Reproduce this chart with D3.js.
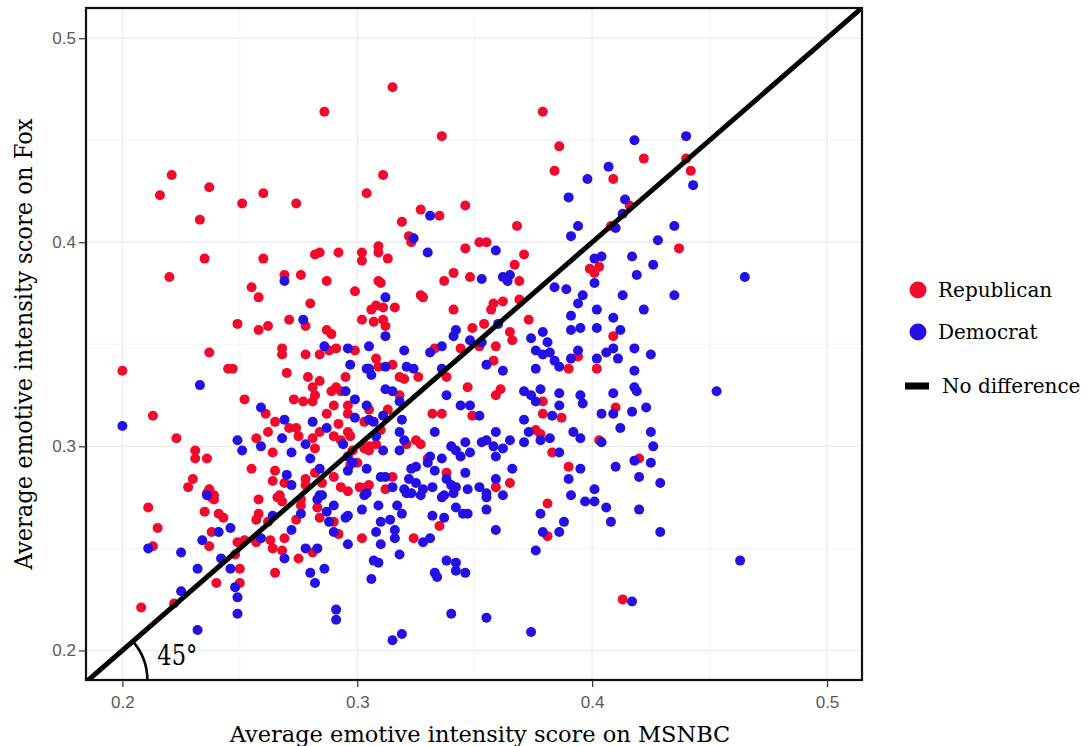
<!DOCTYPE html>
<html>
<head>
<meta charset="utf-8">
<script src="https://cdn.jsdelivr.net/npm/d3@7"></script>
<style>
  html, body { margin: 0; padding: 0; background: #fff; }
  svg { display: block; }
</style>
</head>
<body>
<svg id="chart" width="1090" height="746"></svg>
<script>
// ---------- DATA ----------
const parties = ["Republican", "Democrat"];
const legendLabels = ["Republican", "Democrat", "No difference"];
const xTitle = "Average emotive intensity score on MSNBC";
const yTitle = "Average emotive intensity score on Fox";
const tickValues = [0.2, 0.3, 0.4, 0.5];
const minorValues = [0.25, 0.35, 0.45];
const angleLabel = "45°";

// [MSNBC score, Fox score]
const republican = [
[0.216,0.423],[0.221,0.433],[0.237,0.427],[0.233,0.411],[0.251,0.419],[0.260,0.424],[0.274,0.419],
[0.286,0.464],[0.315,0.476],[0.304,0.424],[0.311,0.433],[0.327,0.416],[0.319,0.410],[0.322,0.403],
[0.323,0.400],[0.235,0.392],[0.260,0.392],[0.282,0.394],[0.284,0.395],[0.292,0.395],[0.302,0.395],
[0.309,0.398],[0.309,0.395],[0.313,0.392],[0.336,0.452],[0.379,0.464],[0.386,0.447],[0.384,0.435],
[0.422,0.441],[0.440,0.441],[0.442,0.435],[0.409,0.431],[0.416,0.418],[0.408,0.408],[0.335,0.413],
[0.346,0.418],[0.368,0.408],[0.352,0.400],[0.355,0.400],[0.346,0.397],[0.371,0.394],[0.437,0.397],
[0.220,0.383],[0.269,0.384],[0.276,0.384],[0.287,0.381],[0.302,0.391],[0.255,0.378],[0.258,0.373],
[0.299,0.376],[0.309,0.381],[0.308,0.369],[0.306,0.367],[0.280,0.370],[0.271,0.362],[0.278,0.359],
[0.302,0.362],[0.307,0.361],[0.249,0.360],[0.258,0.357],[0.262,0.359],[0.287,0.357],[0.289,0.355],
[0.268,0.348],[0.268,0.345],[0.278,0.345],[0.284,0.345],[0.288,0.347],[0.291,0.348],[0.299,0.347],
[0.308,0.343],[0.237,0.346],[0.245,0.338],[0.247,0.338],[0.200,0.337],[0.270,0.336],[0.279,0.334],
[0.284,0.332],[0.281,0.329],[0.295,0.334],[0.291,0.329],[0.289,0.327],[0.293,0.327],[0.282,0.325],
[0.281,0.322],[0.273,0.323],[0.277,0.322],[0.252,0.323],[0.290,0.320],[0.287,0.316],[0.296,0.320],
[0.296,0.316],[0.303,0.312],[0.305,0.318],[0.261,0.316],[0.265,0.312],[0.271,0.309],[0.274,0.309],
[0.284,0.307],[0.292,0.311],[0.296,0.307],[0.213,0.315],[0.223,0.304],[0.231,0.298],[0.231,0.294],
[0.236,0.294],[0.230,0.284],[0.228,0.280],[0.237,0.279],[0.239,0.276],[0.257,0.304],[0.262,0.307],
[0.264,0.297],[0.275,0.305],[0.282,0.299],[0.255,0.289],[0.265,0.288],[0.264,0.283],[0.278,0.284],
[0.285,0.282],[0.290,0.285],[0.300,0.292],[0.290,0.305],[0.297,0.305],[0.303,0.299],[0.298,0.298],
[0.293,0.280],[0.301,0.280],[0.267,0.276],[0.308,0.301],[0.305,0.281],
[0.310,0.380],[0.311,0.368],[0.316,0.368],[0.311,0.362],[0.312,0.359],[0.327,0.374],[0.328,0.373],
[0.341,0.385],[0.337,0.381],[0.348,0.383],[0.367,0.389],[0.369,0.381],[0.341,0.367],[0.358,0.370],
[0.362,0.371],[0.357,0.367],[0.369,0.372],[0.354,0.360],[0.349,0.358],[0.365,0.356],[0.366,0.352],
[0.352,0.349],[0.344,0.348],[0.359,0.349],[0.373,0.362],[0.390,0.338],[0.394,0.344],[0.399,0.387],
[0.401,0.385],[0.403,0.388],[0.409,0.354],[0.402,0.338],[0.309,0.339],[0.315,0.340],[0.318,0.334],
[0.320,0.333],[0.326,0.334],[0.333,0.348],[0.338,0.334],[0.358,0.342],[0.318,0.325],[0.347,0.329],
[0.361,0.328],[0.359,0.325],[0.379,0.322],[0.410,0.319],[0.420,0.294],[0.403,0.303],[0.383,0.297],
[0.390,0.290],[0.387,0.314],[0.379,0.316],[0.376,0.308],[0.378,0.306],[0.365,0.282],[0.359,0.280],
[0.338,0.287],[0.330,0.294],[0.321,0.301],[0.325,0.303],[0.327,0.301],[0.332,0.316],[0.336,0.316],
[0.349,0.315],[0.313,0.318],[0.310,0.308],[0.305,0.298],[0.315,0.285],[0.312,0.279],
[0.211,0.270],[0.215,0.260],[0.213,0.251],[0.222,0.223],[0.208,0.221],[0.235,0.268],[0.241,0.267],
[0.243,0.265],[0.238,0.258],[0.237,0.251],[0.250,0.240],[0.240,0.233],[0.250,0.233],[0.248,0.247],
[0.249,0.253],[0.252,0.254],[0.236,0.277],[0.238,0.275],[0.239,0.274],[0.257,0.253],[0.258,0.274],
[0.258,0.267],[0.257,0.264],[0.266,0.275],[0.268,0.273],[0.262,0.263],[0.263,0.254],[0.264,0.250],
[0.268,0.249],[0.269,0.255],[0.265,0.238],[0.274,0.264],[0.276,0.271],[0.275,0.245],[0.281,0.248],
[0.284,0.265],[0.290,0.263],[0.292,0.257],[0.296,0.278],[0.302,0.255],[0.324,0.255],[0.276,0.274],
[0.335,0.261],[0.381,0.272],[0.381,0.256],[0.413,0.225],
[0.281,0.304],[0.269,0.282],[0.278,0.281],[0.282,0.287],[0.297,0.291],[0.304,0.280],[0.283,0.270],
[0.293,0.303],[0.305,0.300]
];

const democrat = [
[0.331,0.413],[0.324,0.402],[0.330,0.395],[0.418,0.450],[0.440,0.452],[0.443,0.428],[0.407,0.437],
[0.398,0.431],[0.390,0.422],[0.414,0.421],[0.413,0.414],[0.410,0.407],[0.394,0.408],[0.391,0.403],
[0.435,0.408],[0.428,0.401],[0.359,0.396],[0.401,0.392],[0.404,0.393],[0.417,0.393],
[0.269,0.381],[0.277,0.362],[0.286,0.349],[0.296,0.348],[0.305,0.349],[0.297,0.340],[0.305,0.338],
[0.306,0.335],[0.233,0.330],[0.295,0.327],[0.299,0.323],[0.304,0.320],[0.259,0.319],[0.299,0.314],
[0.269,0.313],[0.281,0.312],[0.287,0.309],[0.200,0.310],[0.236,0.276],[0.249,0.303],[0.251,0.298],
[0.259,0.300],[0.268,0.304],[0.272,0.297],[0.278,0.301],[0.280,0.294],[0.270,0.286],[0.272,0.281],
[0.284,0.289],[0.296,0.288],[0.304,0.289],[0.294,0.301],[0.296,0.295],[0.304,0.277],[0.284,0.276],
[0.308,0.305],
[0.312,0.373],[0.312,0.354],[0.353,0.382],[0.362,0.383],[0.365,0.384],[0.364,0.381],[0.360,0.360],
[0.342,0.357],[0.341,0.354],[0.348,0.352],[0.353,0.351],[0.374,0.353],[0.379,0.356],[0.381,0.351],
[0.376,0.347],[0.379,0.345],[0.382,0.346],[0.384,0.342],[0.386,0.339],[0.391,0.343],[0.394,0.347],
[0.376,0.338],[0.384,0.378],[0.389,0.377],[0.394,0.370],[0.396,0.374],[0.391,0.364],[0.391,0.357],
[0.395,0.358],[0.401,0.380],[0.402,0.367],[0.409,0.363],[0.402,0.358],[0.412,0.357],[0.402,0.343],
[0.406,0.346],[0.409,0.348],[0.411,0.343],[0.413,0.374],[0.419,0.384],[0.426,0.389],[0.422,0.367],
[0.418,0.348],[0.425,0.345],[0.418,0.337],[0.435,0.374],[0.304,0.338],[0.312,0.339],[0.321,0.339],
[0.324,0.338],[0.320,0.347],[0.331,0.346],[0.336,0.349],[0.336,0.338],[0.355,0.340],[0.362,0.337],
[0.312,0.328],[0.315,0.327],[0.318,0.322],[0.338,0.325],[0.371,0.327],[0.374,0.325],[0.378,0.328],
[0.376,0.322],[0.386,0.326],[0.395,0.325],[0.396,0.321],[0.409,0.326],[0.418,0.329],[0.419,0.327],
[0.423,0.319],[0.409,0.316],[0.404,0.316],[0.417,0.317],[0.412,0.309],[0.425,0.307],[0.426,0.300],
[0.425,0.292],[0.418,0.293],[0.420,0.285],[0.429,0.282],[0.410,0.290],[0.404,0.302],[0.395,0.304],
[0.392,0.307],[0.386,0.297],[0.390,0.284],[0.395,0.289],[0.401,0.279],[0.383,0.315],[0.386,0.320],
[0.371,0.313],[0.373,0.307],[0.378,0.303],[0.382,0.304],[0.371,0.302],[0.365,0.303],[0.359,0.307],
[0.355,0.303],[0.353,0.302],[0.358,0.300],[0.362,0.299],[0.359,0.295],[0.366,0.289],[0.359,0.284],
[0.346,0.287],[0.338,0.284],[0.346,0.302],[0.342,0.298],[0.340,0.300],[0.348,0.297],[0.344,0.295],
[0.336,0.294],[0.331,0.295],[0.330,0.292],[0.325,0.290],[0.323,0.289],[0.318,0.298],[0.333,0.307],
[0.352,0.315],[0.344,0.320],[0.348,0.320],[0.319,0.313],[0.305,0.313],[0.311,0.315],[0.298,0.292],
[0.310,0.285],[0.315,0.280],[0.320,0.279],[0.325,0.282],[0.328,0.279],[0.332,0.280],[0.340,0.281],
[0.342,0.280],[0.347,0.279],[0.352,0.280],[0.355,0.277],[0.337,0.276],
[0.211,0.250],[0.225,0.248],[0.232,0.240],[0.225,0.229],[0.232,0.210],[0.241,0.258],[0.246,0.260],
[0.234,0.254],[0.242,0.245],[0.246,0.240],[0.248,0.231],[0.249,0.226],[0.249,0.218],[0.259,0.255],
[0.264,0.266],[0.269,0.245],[0.272,0.259],[0.276,0.267],[0.278,0.250],[0.283,0.250],[0.280,0.238],
[0.282,0.233],[0.286,0.240],[0.283,0.274],[0.285,0.276],[0.287,0.268],[0.290,0.271],[0.288,0.263],
[0.290,0.258],[0.295,0.265],[0.296,0.252],[0.291,0.220],[0.291,0.215],[0.302,0.269],[0.303,0.276],
[0.309,0.271],[0.310,0.263],[0.308,0.258],[0.310,0.252],[0.314,0.264],[0.316,0.259],[0.316,0.255],
[0.319,0.267],[0.318,0.247],[0.307,0.244],[0.309,0.243],[0.306,0.235],[0.315,0.205],[0.319,0.208],
[0.328,0.253],[0.321,0.277],[0.327,0.276],
[0.336,0.275],[0.342,0.270],[0.332,0.266],[0.337,0.265],[0.331,0.255],[0.345,0.267],[0.347,0.267],
[0.355,0.275],[0.355,0.269],[0.362,0.276],[0.359,0.259],[0.341,0.277],[0.378,0.267],[0.388,0.263],
[0.379,0.258],[0.386,0.258],[0.376,0.249],[0.391,0.276],[0.397,0.273],[0.401,0.273],[0.406,0.270],
[0.408,0.263],[0.420,0.269],[0.429,0.258],[0.463,0.244],[0.417,0.224],[0.338,0.244],[0.342,0.243],
[0.342,0.239],[0.346,0.238],[0.333,0.238],[0.334,0.236],[0.340,0.218],[0.355,0.216],[0.374,0.209],
[0.465,0.383],[0.453,0.327],
[0.311,0.298],[0.307,0.312],[0.318,0.307],[0.320,0.303],[0.333,0.288],[0.322,0.284],[0.323,0.277],
[0.317,0.271],[0.296,0.266],[0.312,0.285]
];

// ---------- LAYOUT ----------
const colors = { Republican: "#f20a2c", Democrat: "#2410e4" };
const serif = "'DejaVu Serif', 'Liberation Serif', serif";
const sans = "'Liberation Sans', Arial, sans-serif";
const plot = { left: 86, right: 862, top: 8, bottom: 680 };

const svg = d3.select("#chart");
const x = d3.scaleLinear().domain([0.1845, 0.5149]).range([plot.left, plot.right]);
const y = d3.scaleLinear().domain([0.1855, 0.5148]).range([plot.bottom, plot.top]);

svg.append("defs").append("clipPath").attr("id", "clip")
  .append("rect").attr("x", plot.left).attr("y", plot.top)
  .attr("width", plot.right - plot.left).attr("height", plot.bottom - plot.top);

// grid
const grid = svg.append("g");
grid.selectAll(".vmin").data(minorValues).join("line")
  .attr("x1", d => x(d)).attr("x2", d => x(d)).attr("y1", plot.top).attr("y2", plot.bottom)
  .attr("stroke", "#f3f3f3").attr("stroke-width", 1);
grid.selectAll(".hmin").data(minorValues).join("line")
  .attr("y1", d => y(d)).attr("y2", d => y(d)).attr("x1", plot.left).attr("x2", plot.right)
  .attr("stroke", "#f3f3f3").attr("stroke-width", 1);
grid.selectAll(".vmaj").data(tickValues).join("line")
  .attr("x1", d => x(d)).attr("x2", d => x(d)).attr("y1", plot.top).attr("y2", plot.bottom)
  .attr("stroke", "#ececec").attr("stroke-width", 1.3);
grid.selectAll(".hmaj").data(tickValues).join("line")
  .attr("y1", d => y(d)).attr("y2", d => y(d)).attr("x1", plot.left).attr("x2", plot.right)
  .attr("stroke", "#ececec").attr("stroke-width", 1.3);

// points
const pts = svg.append("g").attr("clip-path", "url(#clip)");
pts.selectAll(".rep").data(republican).join("circle")
  .attr("cx", d => x(d[0])).attr("cy", d => y(d[1])).attr("r", 5)
  .attr("fill", colors.Republican);
pts.selectAll(".dem").data(democrat).join("circle")
  .attr("cx", d => x(d[0])).attr("cy", d => y(d[1])).attr("r", 5)
  .attr("fill", colors.Democrat);

// 45 degree line (y = x)
const lineDom = [0.17, 0.53];
svg.append("line").attr("clip-path", "url(#clip)")
  .attr("x1", x(lineDom[0])).attr("y1", y(lineDom[0]))
  .attr("x2", x(lineDom[1])).attr("y2", y(lineDom[1]))
  .attr("stroke", "#000").attr("stroke-width", 5);

// angle arc
const y0 = y.domain()[0];
const cx = x(y0), cy = y(y0);
const ang = Math.atan2(y(lineDom[0]) - y(lineDom[1]), x(lineDom[1]) - x(lineDom[0]));
const r = 59;
svg.append("path")
  .attr("d", `M${cx + r},${cy} A${r},${r} 0 0 0 ${cx + r*Math.cos(ang)},${cy - r*Math.sin(ang)}`)
  .attr("fill", "none").attr("stroke", "#000").attr("stroke-width", 2.6);
svg.append("text").attr("x", cx + 69).attr("y", cy - 15)
  .attr("font-family", serif).attr("font-size", 28).attr("fill", "#000")
  .attr("textLength", 40).attr("lengthAdjust", "spacingAndGlyphs")
  .text(angleLabel);

// border
svg.append("rect").attr("x", plot.left).attr("y", plot.top)
  .attr("width", plot.right - plot.left).attr("height", plot.bottom - plot.top)
  .attr("fill", "none").attr("stroke", "#111").attr("stroke-width", 2.2);

// axes
const xAxis = svg.append("g").attr("transform", `translate(0,${plot.bottom})`)
  .call(d3.axisBottom(x).tickValues(tickValues).tickFormat(d3.format(".1f")).tickSize(7).tickPadding(9));
const yAxis = svg.append("g").attr("transform", `translate(${plot.left},0)`)
  .call(d3.axisLeft(y).tickValues(tickValues).tickFormat(d3.format(".1f")).tickSize(7).tickPadding(3));
[xAxis, yAxis].forEach(a => {
  a.select(".domain").remove();
  a.selectAll(".tick line").attr("stroke", "#333").attr("stroke-width", 1.2);
  a.selectAll(".tick text").attr("fill", "#5a5a5a").attr("font-family", sans).attr("font-size", 17);
});

// axis titles
svg.append("text").attr("x", (plot.left + plot.right) / 2 + 6).attr("y", 742)
  .attr("text-anchor", "middle").attr("font-family", serif).attr("font-size", 22.5)
  .attr("fill", "#000").text(xTitle);
svg.append("text")
  .attr("transform", `translate(32,${(plot.top + plot.bottom) / 2}) rotate(-90)`)
  .attr("text-anchor", "middle").attr("font-family", serif).attr("font-size", 25)
  .attr("textLength", 451).attr("lengthAdjust", "spacingAndGlyphs")
  .attr("fill", "#000").text(yTitle);

// legend
const leg = svg.append("g");
const legY = [290, 332, 386];
parties.forEach((p, i) => {
  leg.append("circle").attr("cx", 918).attr("cy", legY[i]).attr("r", 8.5).attr("fill", colors[p]);
});
leg.append("rect").attr("x", 905).attr("y", legY[2] - 3.5).attr("width", 24).attr("height", 7).attr("fill", "#000");
legendLabels.forEach((t, i) => {
  leg.append("text").attr("x", i === 2 ? 942 : 938).attr("y", legY[i]).attr("dy", "0.35em")
    .attr("font-family", serif).attr("font-size", 20).attr("fill", "#000").text(t);
});
</script>
</body>
</html>
